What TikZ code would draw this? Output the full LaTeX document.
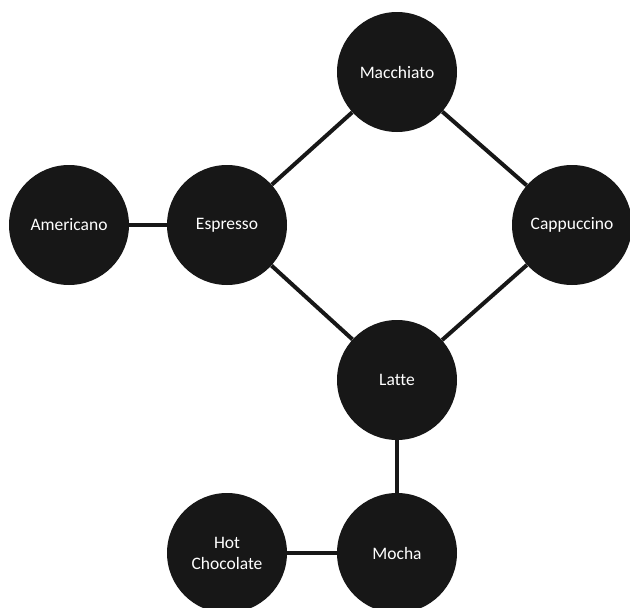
\documentclass[tikz,border=0pt]{standalone}
\usepackage{fontspec}
\setmainfont{Carlito}[Ligatures=NoCommon]
\definecolor{nodefill}{HTML}{171717}
\begin{document}
\begin{tikzpicture}[x=1pt,y=-1pt,
  coffee/.style={circle,fill=nodefill,draw=none,minimum size=120pt,inner sep=0pt,
    text=white,font=\fontsize{17.5}{21}\selectfont,align=center},
  link/.style={draw=nodefill,line width=4pt}]
\useasboundingbox (0,0) rectangle (630,608);
\node[coffee] (mac) at (397,72) {Macchiato};
\node[coffee] (ame) at (69,225) {Americano};
\node[coffee] (esp) at (227,225) {Espresso};
\node[coffee] (cap) at (572,225) {Cappuccino};
\node[coffee] (lat) at (397,380) {Latte};
\node[coffee] (moc) at (397,553) {Mocha};
\node[coffee] (hot) at (227,553) {Hot\\Chocolate};
\draw[link] (ame) -- (esp);
\draw[link] (esp) -- (mac);
\draw[link] (mac) -- (cap);
\draw[link] (esp) -- (lat);
\draw[link] (cap) -- (lat);
\draw[link] (lat) -- (moc);
\draw[link] (hot) -- (moc);
\end{tikzpicture}
\end{document}
